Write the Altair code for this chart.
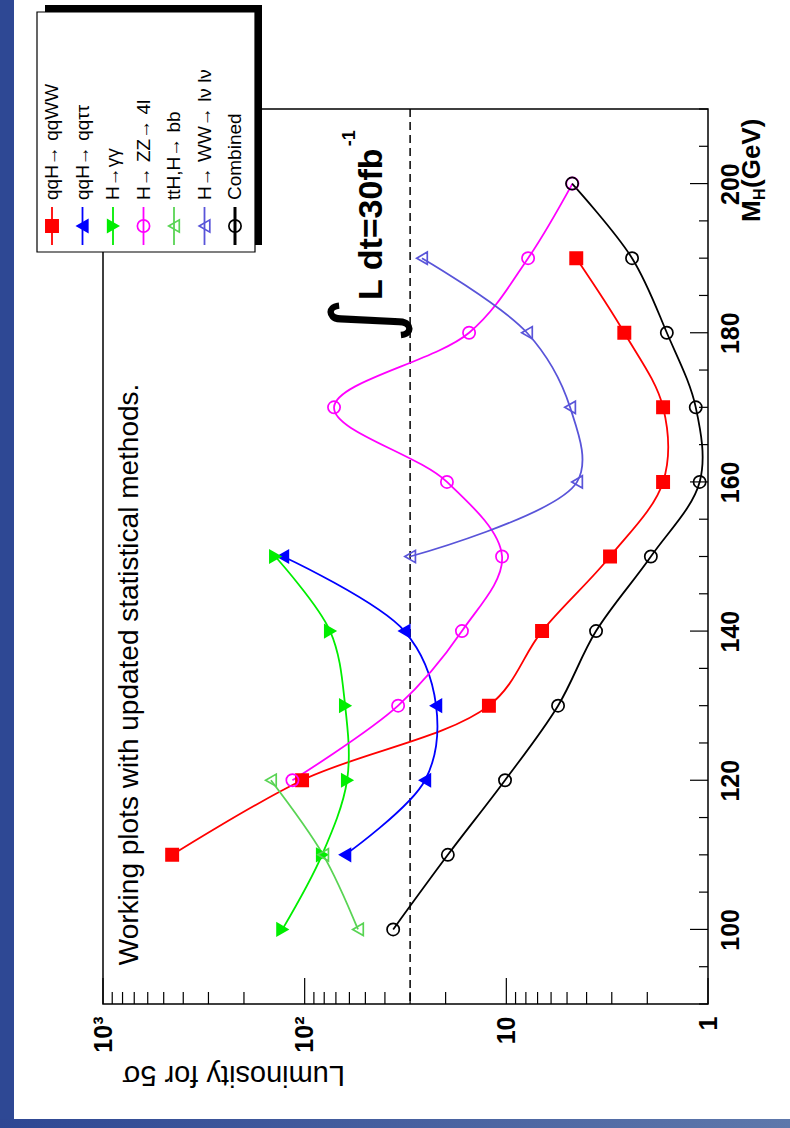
import altair as alt
import pandas as pd

# ---------------- data ----------------
SERIES = ["qqH→ qqWW", "qqH→ qqττ", "H→γγ", "H→ ZZ→ 4l", "ttH,H→ bb", "H→ WW→ lν lν", "Combined"]

mh_qqww = [110, 120, 130, 140, 150, 160, 170, 180, 190]
l_qqww = [454, 103, 12.2, 6.65, 3.06, 1.67, 1.67, 2.6, 4.5]

mh_qqtt = [110, 120, 130, 140, 150]
l_qqtt = [63, 25.3, 22.3, 32, 128]

mh_gg = [100, 110, 120, 130, 140, 150]
l_gg = [129, 82, 61.6, 63, 74.8, 140]

mh_zz = [120, 130, 140, 150, 160, 170, 180, 190, 200]
l_zz = [115, 34.4, 16.6, 10.5, 19.7, 71.5, 15.3, 7.8, 4.7]

mh_tth = [100, 110, 120]
l_tth = [54.4, 81, 147]

mh_ww = [150, 160, 170, 180, 190]
l_ww = [30, 4.46, 4.83, 7.9, 26.2]

mh_comb = [100, 110, 120, 130, 140, 150, 160, 170, 180, 190, 200]
l_comb = [36.4, 19.5, 10.15, 5.54, 3.59, 1.92, 1.10, 1.15, 1.60, 2.38, 4.72]

REF_LUMI = [30]
MH_TICKS = [100, 120, 140, 160, 180, 200]
L_TICKS = [1, 10, 100, 1000]
L_MINOR = [k * d for d in (1, 10, 100) for k in range(2, 10)]
MH_MINOR = [m for m in range(90, 211, 5) if m % 20 != 0]

# ---------------- styles ----------------
COLORS = ["#ff0000", "#0000ff", "#00ee00", "#ff00ff", "#59d454", "#5954d9", "#000000"]
SHAPES = ["square", "triangle-left", "triangle-right", "circle", "triangle-left", "triangle-left", "circle"]
FILLS = ["#ff0000", "#0000ff", "#00ee00", "transparent", "transparent", "transparent", "transparent"]
FONT = "Liberation Sans"
NARROW = "'Liberation Sans Narrow', 'Liberation Sans', Arial, sans-serif"

W, H = 605, 895

rows = []
for name, mh, lv in zip(SERIES,
                        [mh_qqww, mh_qqtt, mh_gg, mh_zz, mh_tth, mh_ww, mh_comb],
                        [l_qqww, l_qqtt, l_gg, l_zz, l_tth, l_ww, l_comb]):
    for m, v in zip(mh, lv):
        rows.append({"series": name, "MH": m, "L": v})
df = pd.DataFrame(rows)

xscale = alt.Scale(type="log", domain=[1, 1000], reverse=True, nice=False)
yscale = alt.Scale(domain=[90, 210], nice=False, zero=False)

label_expr = ("datum.value == 1000 ? '10³' : datum.value == 100 ? '10²' : "
              "datum.value == 10 ? '10' : '1'")
xaxis = alt.Axis(values=L_TICKS, labelExpr=label_expr, labelAngle=270, labelFontSize=25,
                 labelFontWeight="bold", labelFont=FONT, labelPadding=12, labelColor="black",
                 ticks=False, domain=False, grid=False, title=None, labelOverlap=False,
                 labelFlush=False)
yaxis = alt.Axis(orient="right", values=MH_TICKS, labelAngle=270, labelAlign="center",
                 labelBaseline="top", labelPadding=10, labelFontSize=25, labelFontWeight="bold",
                 labelFont=FONT, labelColor="black", ticks=False, domain=False, grid=False,
                 title=None, labelOverlap=False, labelFlush=False)


def X(field="L"):
    return alt.X(f"{field}:Q", scale=xscale, axis=xaxis)


def Y(field="MH"):
    return alt.Y(f"{field}:Q", scale=yscale, axis=yaxis)


dummy = pd.DataFrame({"v": [0]})
layers = []

# page decoration: blue strips at left and bottom
layers.append(alt.Chart(dummy).mark_rect(color="#2e4894").encode(
    x=alt.value(-103), x2=alt.value(-89), y=alt.value(-109), y2=alt.value(1019)))
layers.append(alt.Chart(dummy).mark_rect(
    color=alt.LinearGradient(gradient="linear",
                             stops=[alt.GradientStop(color="#2e4793", offset=0),
                                    alt.GradientStop(color="#5e78ab", offset=1)],
                             x1=0, x2=1, y1=0, y2=0)).encode(
    x=alt.value(-103), x2=alt.value(687), y=alt.value(1010), y2=alt.value(1019)))

# plot frame
layers.append(alt.Chart(dummy).mark_rect(fill="transparent", stroke="black", strokeWidth=1.5).encode(
    x=alt.value(0), x2=alt.value(W), y=alt.value(0), y2=alt.value(H)))

# ticks (inside)
tick_major_x = pd.DataFrame({"L": L_TICKS})
tick_minor_x = pd.DataFrame({"L": L_MINOR})
tick_major_y = pd.DataFrame({"MH": MH_TICKS})
tick_minor_y = pd.DataFrame({"MH": MH_MINOR})
layers.append(alt.Chart(tick_minor_x).mark_rule(color="black", strokeWidth=1.2).encode(
    x=X(), y=alt.value(H), y2=alt.value(H - 12)))
layers.append(alt.Chart(tick_major_x).mark_rule(color="black", strokeWidth=1.2).encode(
    x=X(), y=alt.value(H), y2=alt.value(H - 26)))
layers.append(alt.Chart(tick_minor_y).mark_rule(color="black", strokeWidth=1.2).encode(
    y=Y(), x=alt.value(W), x2=alt.value(W - 9)))
layers.append(alt.Chart(tick_major_y).mark_rule(color="black", strokeWidth=1.2).encode(
    y=Y(), x=alt.value(W), x2=alt.value(W - 18)))

# dashed reference line
layers.append(alt.Chart(pd.DataFrame({"L": REF_LUMI})).mark_rule(
    color="black", strokeWidth=1.5, strokeDash=[8, 5]).encode(x=X()))

# curves
layers.append(alt.Chart(df).mark_line(interpolate="catmull-rom", strokeWidth=1.8).encode(
    x=X(), y=Y(), order="MH:Q",
    color=alt.Color("series:N", scale=alt.Scale(domain=SERIES, range=COLORS), legend=None)))

# markers
layers.append(alt.Chart(df).mark_point(size=150, strokeWidth=1.7, opacity=1).encode(
    x=X(), y=Y(),
    shape=alt.Shape("series:N", scale=alt.Scale(domain=SERIES, range=SHAPES), legend=None),
    stroke=alt.Stroke("series:N", scale=alt.Scale(domain=SERIES, range=COLORS), legend=None),
    fill=alt.Fill("series:N", scale=alt.Scale(domain=SERIES, range=FILLS), legend=None)))

# annotations inside the plot
ann = pd.DataFrame({"L": [734], "MH": [95.2]})
layers.append(alt.Chart(ann).mark_text(
    text="Working plots with updated statistical methods.", angle=270, align="left",
    baseline="middle", fontSize=28, font=FONT, color="black").encode(x=X(), y=Y()))

lum = pd.DataFrame({"L": [46.3], "MH": [184.4]})
layers.append(alt.Chart(lum).mark_text(
    text="L dt=30fb", angle=270, align="left", baseline="middle", fontSize=34,
    fontWeight="bold", font=FONT, color="black").encode(x=X(), y=Y()))
lum_sup = pd.DataFrame({"L": [59.5], "MH": [205.0]})
layers.append(alt.Chart(lum_sup).mark_text(
    text="-1", angle=270, align="left", baseline="middle", fontSize=18,
    fontWeight="bold", font=FONT, color="black").encode(x=X(), y=Y()))
integ = pd.DataFrame({"L": [48.5], "MH": [181.7]})
layers.append(alt.Chart(integ).mark_text(
    text="∫", angle=270, align="center", baseline="middle", fontSize=88,
    font="DejaVu Sans", color="black").encode(x=X(), y=Y()))

# axis titles
layers.append(alt.Chart(dummy).mark_text(
    text="Luminosity for 5σ", angle=180, align="left", baseline="middle", fontSize=29,
    font=FONT, color="black").encode(x=alt.value(242), y=alt.value(966)))
layers.append(alt.Chart(dummy).mark_text(
    text="M", angle=270, align="left", baseline="middle", fontSize=26, fontWeight="bold",
    font=FONT, color="black").encode(x=alt.value(649), y=alt.value(113)))
layers.append(alt.Chart(dummy).mark_text(
    text="H", angle=270, align="left", baseline="middle", fontSize=16, fontWeight="bold",
    font=FONT, color="black", dx=22, dy=8).encode(x=alt.value(649), y=alt.value(113)))
layers.append(alt.Chart(dummy).mark_text(
    text="(GeV)", angle=270, align="left", baseline="middle", fontSize=26, fontWeight="bold",
    font=FONT, color="black", dx=34).encode(x=alt.value(649), y=alt.value(113)))

# legend (shadow, box, entries)
layers.append(alt.Chart(dummy).mark_rect(color="black").encode(
    x=alt.value(-58), x2=alt.value(159), y=alt.value(-104), y2=alt.value(136)))
layers.append(alt.Chart(dummy).mark_rect(fill="white", stroke="black", strokeWidth=1.2).encode(
    x=alt.value(-66), x2=alt.value(152), y=alt.value(-97), y2=alt.value(143)))
LX0, LDX = -51, 30.5
for i, name in enumerate(SERIES):
    lx = LX0 + i * LDX
    lw = 3 if name == "Combined" else 1.8
    layers.append(alt.Chart(dummy).mark_rule(color=COLORS[i], strokeWidth=lw).encode(
        x=alt.value(lx), y=alt.value(98), y2=alt.value(136)))
    layers.append(alt.Chart(dummy).mark_point(
        shape=SHAPES[i], fill=FILLS[i], stroke=COLORS[i], size=150, strokeWidth=1.7,
        opacity=1).encode(x=alt.value(lx), y=alt.value(117)))
    layers.append(alt.Chart(dummy).mark_text(
        text=name, angle=270, align="left", baseline="middle", fontSize=19, font=NARROW,
        color="black").encode(x=alt.value(lx), y=alt.value(91)))

chart = alt.layer(*layers).properties(
    width=W, height=H, autosize="none",
    padding={"left": 103, "top": 109, "right": 82, "bottom": 124},
    background="white",
).configure_view(strokeOpacity=0)

chart.save("out.html", embed_options={"renderer": "svg", "actions": False})
